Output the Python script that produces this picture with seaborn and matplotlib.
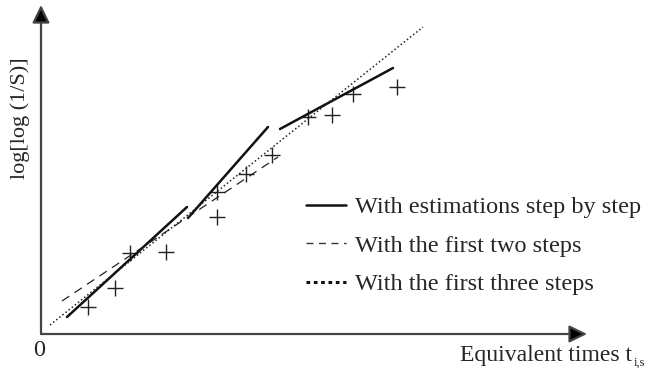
import numpy as np
import pandas as pd
import matplotlib
matplotlib.use("Agg")
import matplotlib.pyplot as plt
import seaborn as sns
from matplotlib.lines import Line2D

# Observed points (equivalent time, log[log(1/S)])
t_obs = [0.47, 0.74, 0.89, 1.25, 1.76, 1.76, 2.05, 2.31, 2.67, 2.91, 3.12, 3.56]
y_obs = [0.27, 0.46, 0.81, 0.82, 1.17, 1.42, 1.60, 1.79, 2.17, 2.19, 2.40, 2.47]

# Step-by-step estimations (three separate segments)
step_id = [1, 1, 2, 2, 3, 3]
step_t = [0.26, 1.46, 1.47, 2.27, 2.39, 3.52]
step_y = [0.17, 1.27, 1.16, 2.07, 2.05, 2.66]

# Fit with the first two steps
two_t = [0.21, 2.37]
two_y = [0.33, 1.77]

# Fit with the first three steps
three_t = [0.09, 3.82]
three_y = [0.09, 3.07]

labels = ["With estimations step by step",
          "With the first two steps",
          "With the first three steps"]

sns.set_style("white")
plt.rcParams["font.family"] = ["Liberation Serif", "DejaVu Serif"]

fig = plt.figure(figsize=(6.52, 3.75), dpi=100)
ax = fig.add_axes([41 / 652, 1 - 334 / 375, 546 / 652, 329 / 375])

steps = pd.DataFrame({"t": step_t, "y": step_y, "seg": step_id})
sns.lineplot(data=steps, x="t", y="y", units="seg", estimator=None,
             color="#111111", lw=1.8, ax=ax)
sns.lineplot(x=two_t, y=two_y, color="#222222", lw=0.9,
             linestyle=(0, (7, 5)), ax=ax)
sns.lineplot(x=three_t, y=three_y, color="#222222", lw=1.1,
             linestyle=(0, (1, 1.6)), ax=ax)
sns.scatterplot(x=t_obs, y=y_obs, marker="+", s=130, color="#222222",
                linewidth=1.0, ax=ax)

ax.set_xlim(0, 5.46)
ax.set_ylim(0, 3.29)
ax.set_xticks([])
ax.set_yticks([])
ax.set_xlabel("")
ax.set_ylabel("")
for s in ax.spines.values():
    s.set_visible(False)

# arrowed axes
arrow = dict(arrowstyle="-|>,head_length=0.45,head_width=0.22",
             color="#444444", lw=1.6, mutation_scale=24,
             shrinkA=0, shrinkB=0)
ax.annotate("", xy=(1, 0), xytext=(0, 0), xycoords="axes fraction",
            arrowprops=dict(arrow, fc="black", ec="#444444"),
            annotation_clip=False)
ax.annotate("", xy=(0, 1), xytext=(0, 0), xycoords="axes fraction",
            arrowprops=dict(arrow, fc="black", ec="#444444"),
            annotation_clip=False)

handles = [
    Line2D([], [], color="#111111", lw=1.8),
    Line2D([], [], color="#333333", lw=1.0, linestyle=(0, (5, 4))),
    Line2D([], [], color="#111111", lw=2.2, linestyle=(0, (1.2, 1.2))),
]
fig.legend(handles, labels, loc="upper left",
           bbox_to_anchor=(306 / 652, 1 - 196 / 375), frameon=False,
           fontsize=17.5, handlelength=1.65, handletextpad=0.35,
           labelspacing=0.68, borderpad=0, borderaxespad=0)

fig.text(20 / 652, 1 - 118 / 375, "log[log (1/S)]", rotation=90,
         ha="center", va="center", fontsize=16)
fig.text(39 / 652, 1 - 350 / 375, "0", ha="center", va="center", fontsize=17.5)
fig.text(460 / 652, 1 - 361 / 375, "Equivalent times t",
         ha="left", va="baseline", fontsize=17)
fig.text(634 / 652, 1 - 366 / 375, "i,s",
         ha="left", va="baseline", fontsize=9)

fig.savefig("out.png", dpi=100)
